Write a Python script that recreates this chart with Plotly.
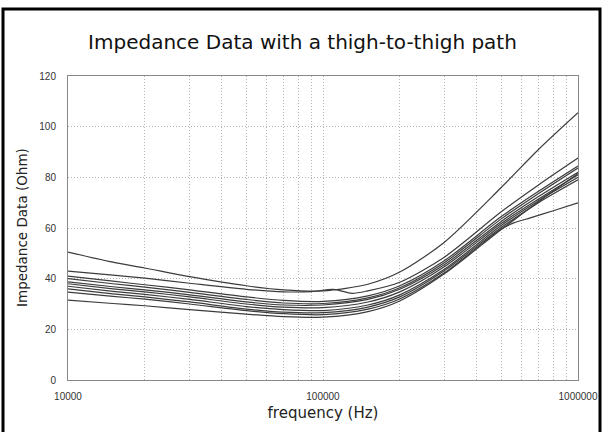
import plotly.graph_objects as go

freq = [1e4, 1.5e4, 2e4, 3e4, 5e4, 7e4, 1e5, 1.5e5, 2e5, 3e5, 5e5, 7e5, 1e6]

c1 = [50.5, 46.5, 44.2, 40.8, 37.2, 35.6, 35.2, 37.8, 42.6, 54.5, 76.0, 91.0, 105.5]
c3 = [41.0, 39.0, 37.6, 35.6, 32.8, 31.4, 31.0, 33.2, 37.2, 47.2, 64.5, 74.5, 84.5]
c4 = [40.0, 38.0, 36.7, 34.6, 31.8, 30.4, 30.2, 32.4, 36.4, 46.4, 63.6, 73.6, 83.7]
c5 = [38.7, 36.8, 35.6, 33.6, 30.8, 29.6, 29.6, 31.8, 35.8, 45.6, 62.6, 72.4, 82.0]
c6 = [38.0, 36.0, 34.8, 32.8, 30.0, 28.8, 28.6, 30.8, 34.8, 44.8, 61.8, 71.4, 81.0]
c7 = [37.0, 35.0, 33.8, 31.8, 29.0, 27.8, 27.4, 29.6, 33.6, 43.8, 61.0, 70.8, 80.0]
c8 = [36.0, 34.0, 32.8, 30.8, 28.0, 26.8, 26.6, 28.8, 32.8, 43.2, 60.2, 70.0, 79.0]
c10 = [31.5, 30.2, 29.3, 27.8, 26.0, 25.0, 24.8, 27.0, 31.2, 42.0, 59.4, 70.4, 81.5]

freq_b = [1e4, 1.5e4, 2e4, 3e4, 5e4, 7e4, 9e4, 1.1e5, 1.3e5, 1.5e5, 2e5, 3e5, 5e5, 7e5, 1e6]
c2 = [43.0, 41.4, 40.2, 38.2, 35.8, 34.8, 34.9, 35.8, 34.2, 35.2, 38.6, 48.6, 66.4, 77.0, 87.6]

freq_k = [1e4, 1.5e4, 2e4, 3e4, 5e4, 7e4, 1e5, 1.5e5, 2e5, 3e5, 5e5, 5.6e5, 6.5e5, 8e5, 1e6]
c9 = [34.7, 33.0, 31.9, 30.0, 27.4, 26.2, 25.8, 28.0, 32.0, 42.4, 59.6, 62.0, 64.0, 66.8, 69.9]

curves = [(freq, c1), (freq_b, c2), (freq, c3), (freq, c4), (freq, c5),
          (freq, c6), (freq, c7), (freq, c8), (freq_k, c9), (freq, c10)]

xticks = [1e4, 1e5, 1e6]
xtick_text = ["10000", "100000", "1000000"]
yticks = [0, 20, 40, 60, 80, 100, 120]

fig = go.Figure()
for fx, fy in curves:
    fig.add_trace(go.Scatter(x=fx, y=fy, mode="lines",
                             line=dict(color="#3c3c3c", width=1.2, shape="spline", smoothing=0.8),
                             showlegend=False, hoverinfo="skip"))

GRID = "#b4b4b4"
DASH = "1px,2px"
tickfont = dict(family="Liberation Sans", size=10, color="#333")
fig.update_layout(
    width=605, height=432,
    margin=dict(l=68, r=27, t=76, b=52),
    paper_bgcolor="white", plot_bgcolor="white",
    font=dict(family="DejaVu Sans", color="#222"),
    title=dict(text="Impedance Data with a thigh-to-thigh path", x=0.5, xanchor="center",
               y=1 - 42 / 432, yanchor="middle", font=dict(size=20, color="#111")),
    xaxis=dict(type="log", range=[4, 6], tickvals=xticks, ticktext=xtick_text,
               tickfont=tickfont, ticks="", ticklabelstandoff=7, automargin=False,
               showline=True, linecolor="#888", linewidth=1, mirror=True,
               showgrid=True, gridcolor=GRID, gridwidth=1, griddash=DASH,
               minor=dict(dtick="D1", showgrid=True, gridcolor=GRID, griddash=DASH, ticks=""),
               title=dict(text="frequency (Hz)", font=dict(size=15, color="#222"), standoff=6),
               zeroline=False),
    yaxis=dict(range=[0, 120], tickvals=yticks, tickfont=tickfont,
               ticks="", ticklabelstandoff=9, automargin=False,
               showline=True, linecolor="#888", linewidth=1, mirror=True,
               showgrid=True, gridcolor=GRID, gridwidth=1, griddash=DASH,
               zeroline=False),
)

fig.add_annotation(text="Impedance Data (Ohm)", textangle=-90, showarrow=False,
                   xref="paper", yref="paper", x=(22 - 68) / 510, y=0.5,
                   xanchor="center", yanchor="middle",
                   font=dict(size=13.5, color="#222"))

fig.add_shape(type="rect", xref="paper", yref="paper",
              x0=(3 - 68) / 510, x1=(600 - 68) / 510,
              y0=(380 - 445) / 304, y1=(380 - 9) / 304,
              line=dict(color="black", width=3), layer="above")

fig.write_html("out.html", config={"displayModeBar": False},
               post_script="document.body.style.margin='0px';document.body.style.overflow='hidden';")
